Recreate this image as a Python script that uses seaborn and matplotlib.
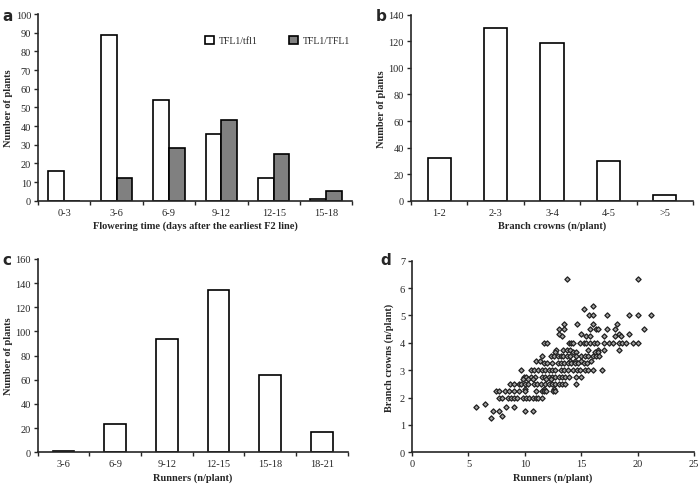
"""
Four-panel figure: flowering time, branch crowns, runners and
runners vs branch crowns scatter.
"""
import numpy as np
import pandas as pd
import matplotlib
matplotlib.use("Agg")
import matplotlib.pyplot as plt
from matplotlib.patches import Patch
import seaborn as sns

# panel a
flower_bins = ["0-3", "3-6", "6-9", "9-12", "12-15", "15-18"]
flower_het = [16, 89, 54, 36, 12, 1]      # TFL1/tfl1
flower_hom = [0, 12, 28, 43, 25, 5]       # TFL1/TFL1
genotypes = ["TFL1/tfl1", "TFL1/TFL1"]

# panel b
crown_bins = ["1-2", "2-3", "3-4", "4-5", ">5"]
crown_counts = [32, 130, 119, 30, 4]

# panel c
runner_bins = ["3-6", "6-9", "9-12", "12-15", "15-18", "18-21"]
runner_counts = [1, 23, 94, 134, 64, 17]

# panel d: branch crowns level -> runners values
scatter_rows = {
    6.33: [13.75, 20.0],
    5.33: [16.0],
    5.25: [15.2],
    5.0: [15.7, 16.0, 17.3, 19.2, 20.0, 21.2],
    4.67: [13.5, 14.6, 16.0, 18.2],
    4.5: [13.0, 13.5, 15.8, 16.3, 16.5, 17.3, 18.0, 20.6],
    4.33: [13.0, 15.0, 18.3, 19.2],
    4.25: [13.3, 15.4, 15.8, 17.0, 18.0, 18.5],
    4.0: [11.7, 12.0, 13.9, 14.1, 14.3, 14.9, 15.2, 15.4, 15.8, 16.1,
          16.4, 17.0, 17.5, 17.8, 18.3, 18.6, 19.0, 19.6, 20.0],
    3.75: [12.8, 13.4, 13.7, 14.0, 15.6, 16.5, 17.0, 18.3],
    3.67: [12.7, 14.3, 14.5, 16.2, 16.5],
    3.5: [11.5, 12.3, 12.6, 12.9, 13.2, 13.4, 13.7, 14.0, 14.5, 15.0,
          15.3, 15.6, 16.0, 16.3, 16.6],
    3.33: [11.0, 11.3, 14.0, 14.4, 15.0, 15.9],
    3.25: [11.7, 12.0, 12.4, 12.9, 13.2, 13.5, 13.8, 14.1, 14.4, 14.7,
           15.2, 15.5],
    3.0: [9.7, 10.5, 10.8, 11.2, 11.5, 11.8, 12.1, 12.4, 12.7, 13.2,
          13.5, 13.8, 14.3, 14.6, 14.9, 15.3, 15.6, 16.0, 16.8],
    2.75: [9.9, 10.1, 10.5, 10.9, 11.5, 11.8, 12.1, 12.4, 12.7, 13.0,
           13.3, 13.6, 13.9, 14.5, 15.0],
    2.67: [9.8, 10.3, 10.7, 11.9, 12.3],
    2.5: [8.7, 9.0, 9.5, 9.7, 10.0, 10.3, 10.8, 11.1, 11.4, 11.8, 12.1,
          12.4, 12.7, 13.0, 13.3, 13.6, 14.5],
    2.33: [10.0, 11.7, 12.6],
    2.25: [7.4, 7.7, 8.2, 8.6, 9.0, 9.5, 10.0, 11.0, 11.5, 11.7, 11.9,
           12.5, 12.7],
    2.0: [7.7, 8.0, 8.5, 8.8, 9.0, 9.3, 9.8, 10.1, 10.4, 10.7, 11.0,
          11.2, 11.5],
    1.75: [6.5],
    1.67: [5.7, 8.3, 9.0],
    1.5: [7.2, 7.7, 10.0, 10.7],
    1.33: [8.0],
    1.25: [7.0],
}

sns.set_style("ticks")
plt.rcParams["font.family"] = ["Liberation Serif", "DejaVu Serif"]
FS = 7.5


def style_cat_axis(ax, n, ymax, ystep, xlabel):
    ax.set_xlim(-0.5, n - 0.5)
    ax.set_ylim(0, ymax)
    ax.set_yticks(np.arange(0, ymax + 1, ystep))
    ax.set_xticks(range(n))
    ax.set_xticks(np.arange(-0.5, n, 1.0), minor=True)
    ax.tick_params(axis="x", which="major", length=0, labelsize=FS, pad=5)
    ax.tick_params(axis="x", which="minor", length=3, width=1, direction="out")
    ax.tick_params(axis="y", length=3, width=1, labelsize=FS, direction="out",
                   pad=2)
    ax.set_xlabel(xlabel, fontsize=FS, fontweight="bold", labelpad=3)
    ax.set_ylabel("Number of plants", fontsize=FS, fontweight="bold", labelpad=2)
    for s in ["top", "right"]:
        ax.spines[s].set_visible(False)
    for s in ["left", "bottom"]:
        ax.spines[s].set_linewidth(1.2)


fig = plt.figure(figsize=(7.0, 4.85), dpi=100)

# ---- a
ax_a = fig.add_axes([0.0543, 0.584, 0.449, 0.385])
df_a = pd.DataFrame({
    "bin": flower_bins * 2,
    "count": flower_het + flower_hom,
    "genotype": [genotypes[0]] * len(flower_bins) + [genotypes[1]] * len(flower_bins),
})
sns.barplot(data=df_a, x="bin", y="count", hue="genotype", order=flower_bins,
            hue_order=genotypes, palette=["white", "#808080"], width=0.6,
            edgecolor="black", linewidth=1.2, legend=False, ax=ax_a)
style_cat_axis(ax_a, len(flower_bins), 100, 10,
               "Flowering time (days after the earliest F2 line)")
handles = [Patch(facecolor="white", edgecolor="black", linewidth=1.2),
           Patch(facecolor="#808080", edgecolor="black", linewidth=1.2)]
ax_a.legend(handles, genotypes, ncol=2, frameon=False, fontsize=7,
            loc="upper right", bbox_to_anchor=(1.02, 0.93),
            handlelength=0.9, handleheight=0.9, handletextpad=0.5,
            columnspacing=3.2)

# ---- b
ax_b = fig.add_axes([0.587, 0.584, 0.403, 0.3835])
sns.barplot(x=crown_bins, y=crown_counts, order=crown_bins, color="white",
            width=0.41, edgecolor="black", linewidth=1.2, ax=ax_b)
style_cat_axis(ax_b, len(crown_bins), 140, 20, "Branch crowns (n/plant)")

# ---- c
ax_c = fig.add_axes([0.0539, 0.0654, 0.443, 0.3986])
sns.barplot(x=runner_bins, y=runner_counts, order=runner_bins, color="white",
            width=0.42, edgecolor="black", linewidth=1.2, ax=ax_c)
style_cat_axis(ax_c, len(runner_bins), 160, 20, "Runners (n/plant)")

# ---- d
ax_d = fig.add_axes([0.5886, 0.0654, 0.403, 0.395])
sx, sy = [], []
for yv, xs in scatter_rows.items():
    sx.extend(xs)
    sy.extend([yv] * len(xs))
df_d = pd.DataFrame({"runners": sx, "crowns": sy})
sns.scatterplot(data=df_d, x="runners", y="crowns", marker="D", s=7,
                facecolor="#a0a0a0", edgecolor="#202020", linewidth=0.9,
                ax=ax_d)
ax_d.set_xlim(0, 25)
ax_d.set_ylim(0, 7)
ax_d.set_xticks(range(0, 26, 5))
ax_d.set_yticks(range(0, 8))
ax_d.tick_params(length=3, width=1, labelsize=FS, direction="out", pad=2)
ax_d.set_xlabel("Runners (n/plant)", fontsize=FS, fontweight="bold", labelpad=3)
ax_d.set_ylabel("Branch crowns (n/plant)", fontsize=FS, fontweight="bold", labelpad=4)
for s in ["top", "right"]:
    ax_d.spines[s].set_visible(False)
for s in ["left", "bottom"]:
    ax_d.spines[s].set_linewidth(1.2)

# panel letters
for letter, (x, y) in zip("abcd", [(0.004, 0.982), (0.537, 0.982),
                                   (0.004, 0.478), (0.544, 0.478)]):
    fig.text(x, y, letter, fontsize=11, fontweight="bold",
             family="DejaVu Sans", va="top")

fig.savefig("out.png", dpi=100)
